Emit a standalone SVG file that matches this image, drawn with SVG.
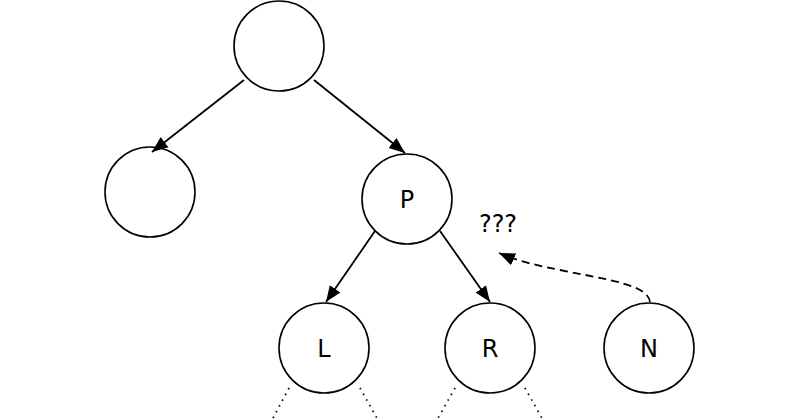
<svg xmlns="http://www.w3.org/2000/svg" width="800" height="420" viewBox="0 0 800 420">
<defs>
<marker id="ah" viewBox="0 0 10 10" refX="10" refY="5" markerWidth="8" markerHeight="8" markerUnits="userSpaceOnUse" orient="auto"><path d="M0,0 L10,5 L0,10 z" fill="#000"/></marker>
<marker id="a" viewBox="0 0 10 10" refX="10" refY="5" markerWidth="16" markerHeight="16" markerUnits="userSpaceOnUse" orient="auto"><path d="M0,1 L10,5 L0,9 z" fill="#000"/></marker>
</defs>
<style>
circle{fill:#fff;stroke:#000;stroke-width:1.6}
text{font-family:"DejaVu Sans",sans-serif;font-size:24px;text-anchor:middle}
.e{stroke:#000;stroke-width:1.8;fill:none;marker-end:url(#a)}
.d{stroke:#000;stroke-width:1.8;fill:none;stroke-dasharray:1.5 5}
</style>
<g id="root"><circle cx="279" cy="46" r="45"/></g>
<g id="left"><circle cx="150" cy="192" r="45"/></g>
<g id="P"><circle cx="407" cy="199" r="45"/><text x="407" y="208">P</text></g>
<g id="L"><circle cx="324" cy="348" r="45"/><text x="324" y="357">L</text></g>
<g id="R"><circle cx="490" cy="348" r="45"/><text x="490" y="357">R</text></g>
<g id="N"><circle cx="649" cy="348" r="45" stroke-width="3.5"/><text x="649" y="357">N</text></g>
<text x="498" y="232">???</text>
<g id="connectors">
<line class="e" x1="244" y1="80" x2="152" y2="152"/>
<line class="e" x1="314" y1="80" x2="405" y2="153"/>
<line class="e" x1="375" y1="231" x2="326" y2="302"/>
<line class="e" x1="440" y1="231" x2="490" y2="302"/>
<path class="e" d="M650,302 C648,285 610,280 560,270 C530,264 515,260 499,253" stroke-dasharray="8 5"/>
<line class="d" x1="289" y1="388" x2="272" y2="420"/>
<line class="d" x1="360" y1="388" x2="378" y2="420"/>
<line class="d" x1="455" y1="388" x2="437" y2="420"/>
<line class="d" x1="525" y1="388" x2="543" y2="420"/>
</g>
</svg>
